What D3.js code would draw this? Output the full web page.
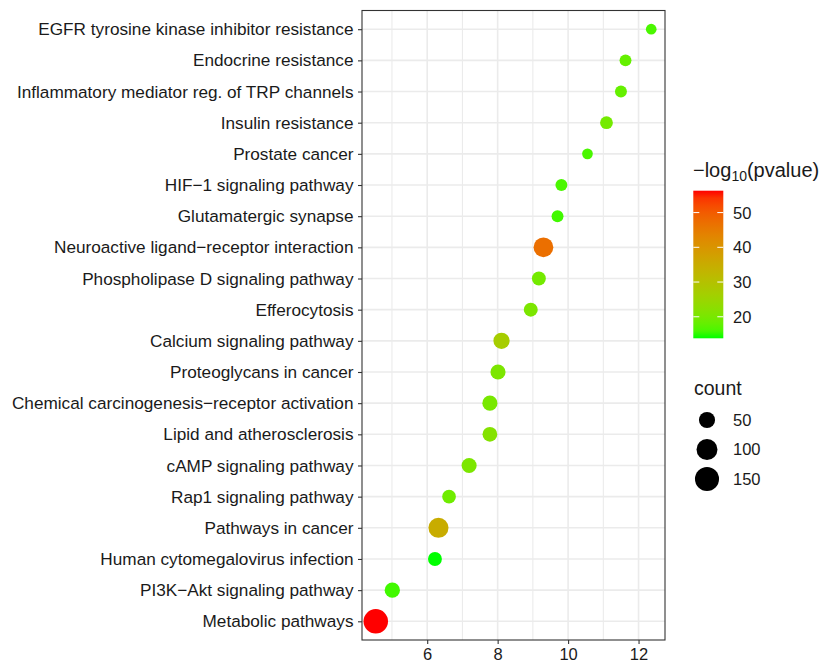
<!DOCTYPE html>
<html>
<head>
<meta charset="utf-8">
<script src="https://cdn.jsdelivr.net/npm/d3@7"></script>
<style>
  body { margin: 0; background: #fff; }
  svg { display: block; font-family: "Liberation Sans", Arial, Helvetica, sans-serif; }
</style>
</head>
<body>
<svg id="chart" width="823" height="664"></svg>
<script>
// ---- data (top to bottom) ----
const pathways = [
  "EGFR tyrosine kinase inhibitor resistance",
  "Endocrine resistance",
  "Inflammatory mediator reg. of TRP channels",
  "Insulin resistance",
  "Prostate cancer",
  "HIF\u22121 signaling pathway",
  "Glutamatergic synapse",
  "Neuroactive ligand\u2212receptor interaction",
  "Phospholipase D signaling pathway",
  "Efferocytosis",
  "Calcium signaling pathway",
  "Proteoglycans in cancer",
  "Chemical carcinogenesis\u2212receptor activation",
  "Lipid and atherosclerosis",
  "cAMP signaling pathway",
  "Rap1 signaling pathway",
  "Pathways in cancer",
  "Human cytomegalovirus infection",
  "PI3K\u2212Akt signaling pathway",
  "Metabolic pathways"
];
const xValues = [12.36, 11.63, 11.50, 11.09, 10.55, 9.81, 9.70, 9.30, 9.17, 8.94,
                 8.11, 8.01, 7.78, 7.78, 7.19, 6.62, 6.32, 6.22, 5.01, 4.54];
const counts  = [30, 31, 31, 33, 30, 31, 31, 85, 37, 37,
                 51, 43, 43, 41, 43, 36, 89, 37, 44, 158];
const logP    = [16.0, 18.0, 18.0, 19.5, 16.0, 16.0, 15.5, 47.0, 19.5, 20.5,
                 27.0, 20.5, 20.0, 21.5, 20.5, 19.0, 35.0, 13.8, 15.5, 56.3];
const xTicks = [6, 8, 10, 12];
const xMinor = [5, 7, 9, 11];
const colorTicks = [20, 30, 40, 50];
const sizeBreaks = [50, 100, 150];

// ---- layout ----
const svg = d3.select("#chart");
const panel = { left: 362, right: 665, top: 10.5, bottom: 640 };
const textColor = "#1a1a1a";

const ext = d3.extent(xValues);
const pad = (ext[1] - ext[0]) * 0.05;
const x = d3.scaleLinear().domain([ext[0] - pad, ext[1] + pad]).range([panel.left, panel.right]);
const y = d3.scalePoint().domain(pathways).range([panel.top, panel.bottom]).padding(0.6);

const pExt = d3.extent(logP);
const color = d3.scaleLinear().domain(pExt).range(["#00FF00", "#FF0000"]).interpolate(d3.interpolateLab);

const cExt = d3.extent(counts);
const dMin = 10.7, dMax = 24.5;
function radius(c) {
  const t = Math.max(0, (c - cExt[0]) / (cExt[1] - cExt[0]));
  return (dMin + (dMax - dMin) * Math.sqrt(t)) / 2;
}

// ---- panel background & grid ----
const g = svg.append("g");
g.append("rect").attr("x", panel.left).attr("y", panel.top)
  .attr("width", panel.right - panel.left).attr("height", panel.bottom - panel.top)
  .attr("fill", "#fff");

g.selectAll(".minor").data(xMinor).join("line")
  .attr("x1", d => x(d)).attr("x2", d => x(d))
  .attr("y1", panel.top).attr("y2", panel.bottom)
  .attr("stroke", "#EBEBEB").attr("stroke-width", 1.1);
g.selectAll(".majorx").data(xTicks).join("line")
  .attr("x1", d => x(d)).attr("x2", d => x(d))
  .attr("y1", panel.top).attr("y2", panel.bottom)
  .attr("stroke", "#EBEBEB").attr("stroke-width", 1.6);
g.selectAll(".majory").data(pathways).join("line")
  .attr("x1", panel.left).attr("x2", panel.right)
  .attr("y1", d => y(d)).attr("y2", d => y(d))
  .attr("stroke", "#EBEBEB").attr("stroke-width", 1.6);

// ---- points ----
const pts = pathways.map((p, i) => ({ p, x: xValues[i], c: counts[i], v: logP[i] }));
g.selectAll(".pt").data(pts).join("circle")
  .attr("cx", d => x(d.x)).attr("cy", d => y(d.p))
  .attr("r", d => radius(d.c))
  .attr("fill", d => color(d.v));

// ---- panel border ----
g.append("rect").attr("x", panel.left).attr("y", panel.top)
  .attr("width", panel.right - panel.left).attr("height", panel.bottom - panel.top)
  .attr("fill", "none").attr("stroke", "#333333").attr("stroke-width", 1.1);

// ---- axes ----
const xAxis = svg.append("g").attr("transform", `translate(0,${panel.bottom})`)
  .call(d3.axisBottom(x).tickValues(xTicks).tickSize(4).tickPadding(4).tickFormat(d3.format("d")));
xAxis.select(".domain").remove();
xAxis.selectAll(".tick line").attr("stroke", "#333333").attr("stroke-width", 1.1);
xAxis.selectAll(".tick text").attr("fill", textColor).attr("font-size", 16.5)
  .attr("font-family", "Liberation Sans, Arial, sans-serif");

const yAxis = svg.append("g").attr("transform", `translate(${panel.left},0)`)
  .call(d3.axisLeft(y).tickSize(4).tickPadding(4.5));
yAxis.select(".domain").remove();
yAxis.selectAll(".tick line").attr("stroke", "#333333").attr("stroke-width", 1.1);
yAxis.selectAll(".tick text").attr("fill", textColor).attr("font-size", 17.2)
  .attr("font-family", "Liberation Sans, Arial, sans-serif");

// ---- colour legend ----
const cl = svg.append("g");
const title = cl.append("text").attr("x", 693).attr("y", 177)
  .attr("font-size", 20).attr("fill", textColor);
title.append("tspan").text("\u2212log");
title.append("tspan").attr("font-size", 14).attr("dy", 4).text("10");
title.append("tspan").attr("dy", -4).text("(pvalue)");

const bar = { x: 693.3, w: 30, top: 190.7, bottom: 338.3 };
const defs = svg.append("defs");
const grad = defs.append("linearGradient").attr("id", "cgrad")
  .attr("x1", 0).attr("y1", 1).attr("x2", 0).attr("y2", 0);
d3.range(0, 1.0001, 0.05).forEach(t => {
  grad.append("stop").attr("offset", t)
    .attr("stop-color", color(pExt[0] + t * (pExt[1] - pExt[0])));
});
cl.append("rect").attr("x", bar.x).attr("y", bar.top).attr("width", bar.w)
  .attr("height", bar.bottom - bar.top).attr("fill", "url(#cgrad)");
const cy = d3.scaleLinear().domain(pExt).range([bar.bottom, bar.top]);
colorTicks.forEach(v => {
  cl.append("line").attr("x1", bar.x).attr("x2", bar.x + 6).attr("y1", cy(v)).attr("y2", cy(v))
    .attr("stroke", "#fff").attr("stroke-width", 1);
  cl.append("line").attr("x1", bar.x + bar.w - 6).attr("x2", bar.x + bar.w).attr("y1", cy(v)).attr("y2", cy(v))
    .attr("stroke", "#fff").attr("stroke-width", 1);
  cl.append("text").attr("x", 733).attr("y", cy(v)).attr("dy", "0.36em")
    .attr("font-size", 16.5).attr("fill", textColor).text(v);
});

// ---- size legend ----
const sl = svg.append("g");
sl.append("text").attr("x", 694).attr("y", 395).attr("font-size", 19.5).attr("fill", textColor).text("count");
const sy = d3.scalePoint().domain(sizeBreaks).range([420, 479]);
sizeBreaks.forEach(b => {
  sl.append("circle").attr("cx", 707).attr("cy", sy(b)).attr("r", radius(b)).attr("fill", "#000");
  sl.append("text").attr("x", 733).attr("y", sy(b)).attr("dy", "0.36em")
    .attr("font-size", 16.5).attr("fill", textColor).text(b);
});
</script>
</body>
</html>
